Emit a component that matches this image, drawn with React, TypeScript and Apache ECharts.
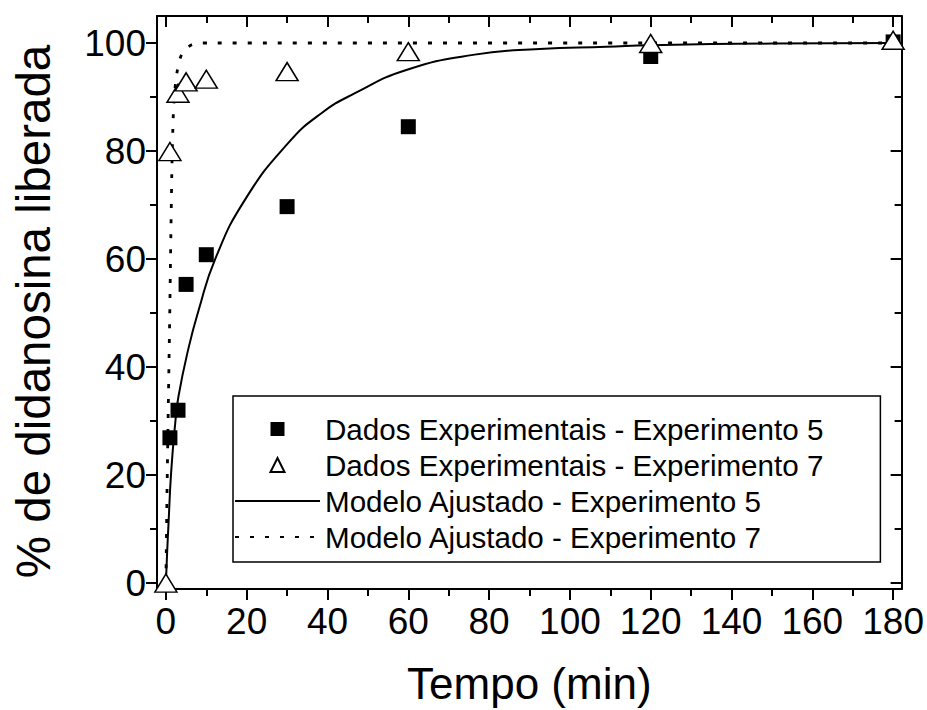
import React, { useEffect, useRef } from "react";
import * as echarts from "echarts";

// ---- data ----
const exp5Data: number[][] = [
  [1, 26.9], [3, 32], [5, 55.3], [10, 60.8], [30, 69.7], [60, 84.5], [120, 97.5], [180, 100.2],
];
const exp7Data: number[][] = [
  [0, 0], [1, 79.9], [3, 90.7], [5, 92.8], [10, 93.3], [30, 94.7], [60, 98.4], [120, 99.9], [180, 100.5],
];
const model5Data: number[][] = [
  [0, 0], [0.3, 5.5], [0.65, 11], [1.3, 20.5], [2.3, 29.5], [3.1, 34.5], [5.6, 43.5], [8.1, 50.5],
  [12.2, 60], [19.6, 71], [30.3, 81.5], [38.5, 87], [46.8, 90.7], [59.5, 95],
  [76, 97.8], [92.5, 98.9], [109, 99.3], [120, 99.6], [150, 99.9], [180, 100],
];
const model7Data: number[][] = [
  [0, 0], [0.25, 15], [0.5, 28], [0.75, 40], [1, 52], [1.3, 68], [1.65, 82], [2.1, 90],
  [3.1, 95.9], [4.6, 98.6], [7.5, 99.9], [10, 100], [180, 100],
];
const seriesNames = [
  "Dados Experimentais - Experimento 5",
  "Dados Experimentais - Experimento 7",
  "Modelo Ajustado - Experimento 5",
  "Modelo Ajustado - Experimento 7",
];
const xMajorTicks = [0, 20, 40, 60, 80, 100, 120, 140, 160, 180];
const xMinorTicks = [10, 30, 50, 70, 90, 110, 130, 150, 170];
const yMajorTicks = [0, 20, 40, 60, 80, 100];
const yMinorTicks = [10, 30, 50, 70, 90];
const xTitle = "Tempo (min)";
const yTitle = "% de didanosina liberada";

const FONT = "'Liberation Sans', Arial, Helvetica, sans-serif";
const X_MIN = -2.2;
const X_MAX = 182.1;
const Y_MIN = -1.1;
const Y_MAX = 105;

const SQUARE_ICON = "path://M0,0L10,0L10,10L0,10Z";
const TRIANGLE_ICON = "path://M5,0L10,10L0,10Z";

function xAxisDef(position: "bottom" | "top", ticks: number[], len: number, inside: boolean, withLabels: boolean, showLine: boolean, name?: string) {
  return {
    type: "value",
    position,
    min: X_MIN,
    max: X_MAX,
    name: name || "",
    nameLocation: "middle",
    nameGap: 72,
    nameTextStyle: { fontSize: 44, color: "#000", fontFamily: FONT },
    axisLine: { show: showLine, onZero: false, lineStyle: { color: "#000", width: 2 } },
    axisTick: { show: true, customValues: ticks, length: len, inside, lineStyle: { color: "#000", width: 2 } },
    axisLabel: withLabels
      ? { show: true, customValues: ticks, fontSize: 37, color: "#000", fontFamily: FONT, margin: 14 }
      : { show: false },
    splitLine: { show: false },
    minorTick: { show: false },
  };
}

function yAxisDef(position: "left" | "right", ticks: number[], len: number, inside: boolean, withLabels: boolean, showLine: boolean, name?: string) {
  return {
    type: "value",
    position,
    min: Y_MIN,
    max: Y_MAX,
    name: name || "",
    nameLocation: "middle",
    nameGap: 100,
    nameTextStyle: { fontSize: 47.5, color: "#000", fontFamily: FONT, padding: [0, 18, 0, 0] },
    axisLine: { show: showLine, onZero: false, lineStyle: { color: "#000", width: 2 } },
    axisTick: { show: true, customValues: ticks, length: len, inside, lineStyle: { color: "#000", width: 2 } },
    axisLabel: withLabels
      ? { show: true, customValues: ticks, fontSize: 37, color: "#000", fontFamily: FONT, margin: 11 }
      : { show: false },
    splitLine: { show: false },
    minorTick: { show: false },
  };
}

export default function App() {
  const ref = useRef<HTMLDivElement>(null);
  useEffect(() => {
    document.body.style.margin = "0";
    if (!ref.current) return;
    const chart = echarts.init(ref.current, undefined, { renderer: "svg" });
    chart.setOption({
      animation: false,
      backgroundColor: "#fff",
      grid: { left: 157, right: 24, top: 16, bottom: 120, containLabel: false },
      xAxis: [
        xAxisDef("bottom", xMajorTicks, 11, false, true, true, xTitle),
        xAxisDef("bottom", xMinorTicks, 7, false, false, false),
        xAxisDef("top", xMajorTicks, 11, true, false, true),
        xAxisDef("top", xMinorTicks, 7, true, false, false),
      ],
      yAxis: [
        yAxisDef("left", yMajorTicks, 11, false, true, true, yTitle),
        yAxisDef("left", yMinorTicks, 7, false, false, false),
        yAxisDef("right", yMajorTicks, 11, true, false, true),
        yAxisDef("right", yMinorTicks, 7, true, false, false),
      ],
      legend: {
        orient: "vertical",
        left: 233,
        top: 396,
        itemWidth: 85,
        itemHeight: 14,
        itemGap: 6,
        padding: [18, 57, 10, 1],
        borderColor: "#000",
        borderWidth: 1.5,
        selectedMode: false,
        symbolKeepAspect: true,
        textStyle: { fontSize: 29.6, color: "#000", fontFamily: FONT },
        data: [
          { name: seriesNames[0], icon: SQUARE_ICON },
          { name: seriesNames[1], icon: TRIANGLE_ICON },
          { name: seriesNames[2], itemStyle: { opacity: 0 } },
          { name: seriesNames[3], itemStyle: { opacity: 0 } },
        ],
      },
      series: [
        {
          name: seriesNames[2],
          type: "line",
          data: model5Data,
          smooth: 0.5,
          symbol: "none",
          lineStyle: { color: "#000", width: 2, type: "solid" },
          itemStyle: { color: "rgba(0,0,0,0)", borderColor: "rgba(0,0,0,0)", borderWidth: 0 },
          z: 2,
        },
        {
          name: seriesNames[3],
          type: "line",
          data: model7Data,
          smooth: 0.4,
          symbol: "none",
          lineStyle: { color: "#000", width: 2.8, type: [4, 11] },
          itemStyle: { color: "rgba(0,0,0,0)", borderColor: "rgba(0,0,0,0)", borderWidth: 0 },
          z: 2,
        },
        {
          name: seriesNames[0],
          type: "scatter",
          data: exp5Data,
          symbol: "rect",
          symbolSize: 15,
          itemStyle: { color: "#000", opacity: 1 },
          z: 3,
        },
        {
          name: seriesNames[1],
          type: "scatter",
          data: exp7Data,
          symbol: "triangle",
          symbolSize: [22, 18],
          itemStyle: { color: "#fff", borderColor: "#000", borderWidth: 1.5, opacity: 1 },
          z: 4,
        },
      ],
    });
    return () => chart.dispose();
  }, []);
  return <div ref={ref} style={{ width: 927, height: 710 }} />;
}
